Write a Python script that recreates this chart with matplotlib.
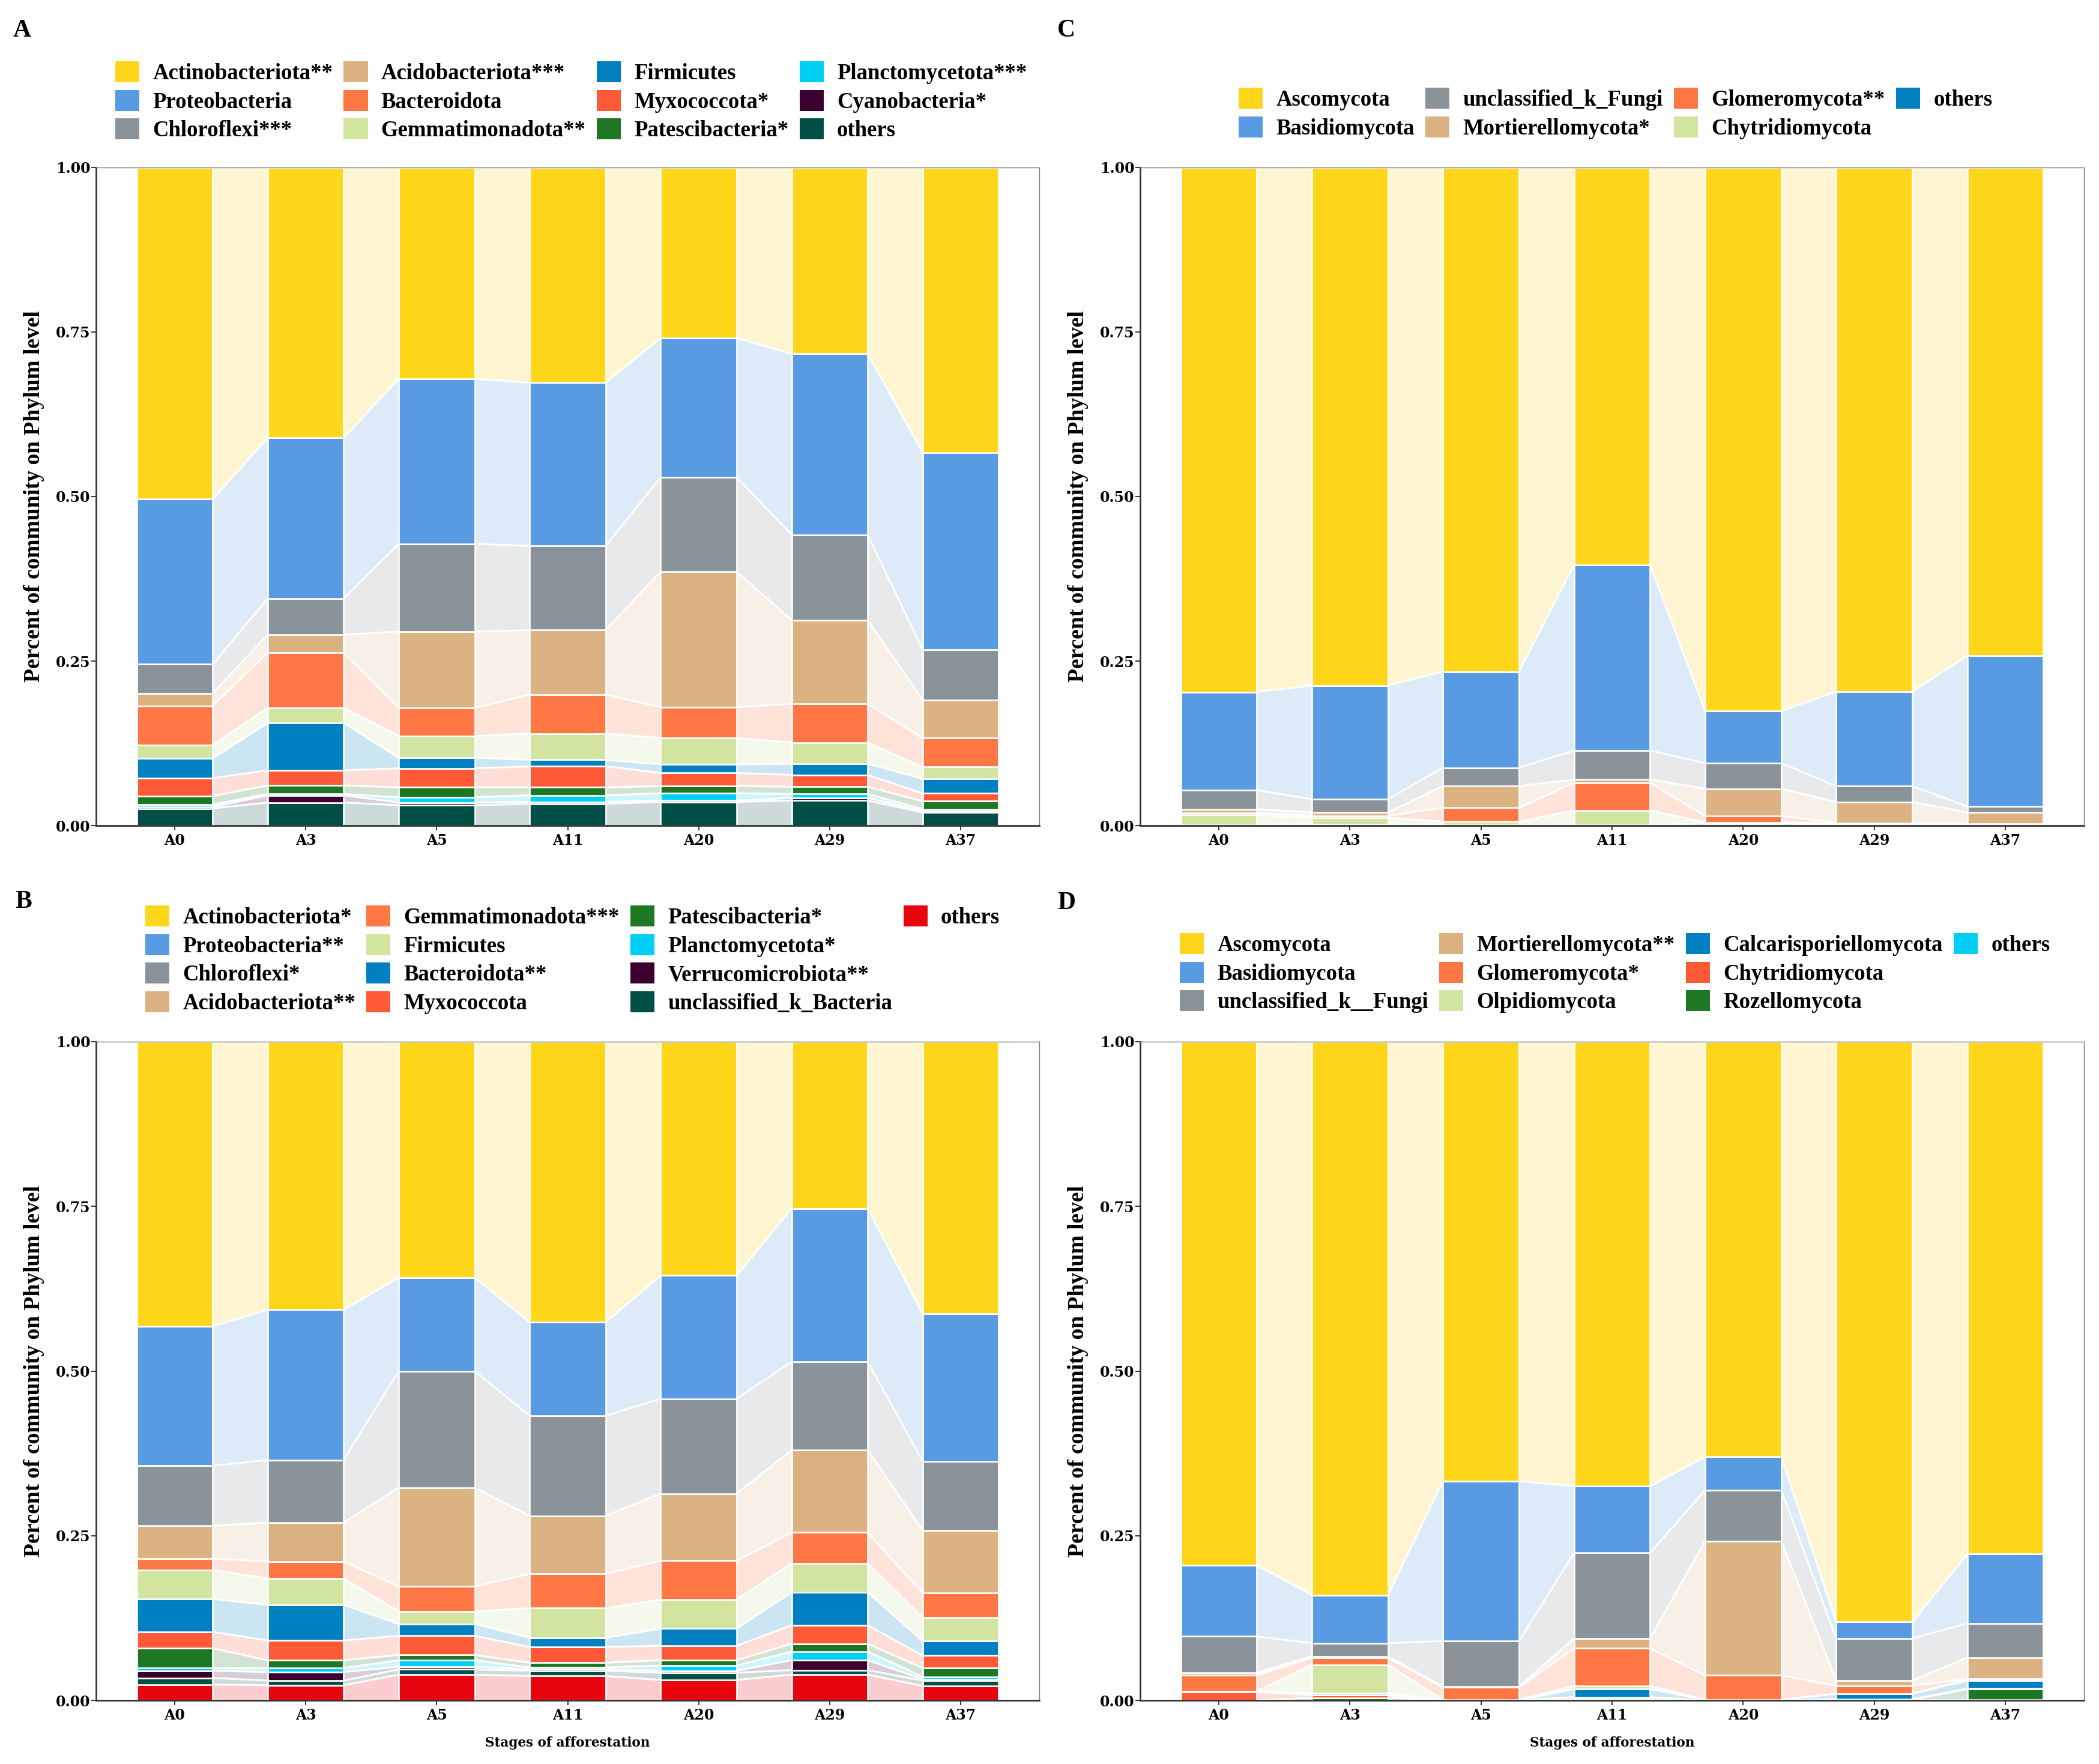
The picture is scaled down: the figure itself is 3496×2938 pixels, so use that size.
import numpy as np
import matplotlib
matplotlib.use("Agg")
import matplotlib.pyplot as plt
from matplotlib.patches import Patch

plt.rcParams['font.family'] = ['Liberation Serif', 'DejaVu Serif']
plt.rcParams['font.weight'] = 'bold'

stages = ["A0", "A3", "A5", "A11", "A20", "A29", "A37"]

# ---------------- Panel A (bacteria) : legend order = top of stack first
A_labels = ["Actinobacteriota**", "Proteobacteria", "Chloroflexi***", "Acidobacteriota***",
            "Bacteroidota", "Gemmatimonadota**", "Firmicutes", "Myxococcota*",
            "Patescibacteria*", "Planctomycetota***", "Cyanobacteria*", "others"]
A_actino = [0.504, 0.411, 0.321, 0.327, 0.259, 0.283, 0.433]
A_proteo = [0.251, 0.244, 0.251, 0.248, 0.212, 0.275, 0.300]
A_chloro = [0.044, 0.055, 0.133, 0.128, 0.143, 0.130, 0.076]
A_acido = [0.019, 0.027, 0.116, 0.098, 0.206, 0.127, 0.058]
A_bacter = [0.060, 0.084, 0.043, 0.059, 0.047, 0.059, 0.044]
A_gemmat = [0.020, 0.023, 0.033, 0.040, 0.040, 0.032, 0.018]
A_firmic = [0.030, 0.072, 0.016, 0.010, 0.013, 0.017, 0.022]
A_myxo = [0.027, 0.023, 0.029, 0.032, 0.020, 0.018, 0.012]
A_patesci = [0.013, 0.013, 0.015, 0.012, 0.011, 0.011, 0.012]
A_plancto = [0.004, 0.002, 0.008, 0.010, 0.011, 0.006, 0.003]
A_cyano = [0.002, 0.011, 0.004, 0.003, 0.002, 0.004, 0.002]
A_others = [0.026, 0.035, 0.031, 0.033, 0.036, 0.038, 0.020]
A_values = [A_actino, A_proteo, A_chloro, A_acido, A_bacter, A_gemmat, A_firmic,
            A_myxo, A_patesci, A_plancto, A_cyano, A_others]

# ---------------- Panel B (bacteria)
B_labels = ["Actinobacteriota*", "Proteobacteria**", "Chloroflexi*", "Acidobacteriota**",
            "Gemmatimonadota***", "Firmicutes", "Bacteroidota**", "Myxococcota",
            "Patescibacteria*", "Planctomycetota*", "Verrucomicrobiota**",
            "unclassified_k_Bacteria", "others"]
B_actino = [0.432, 0.407, 0.358, 0.426, 0.355, 0.253, 0.413]
B_proteo = [0.212, 0.228, 0.142, 0.142, 0.187, 0.233, 0.224]
B_chloro = [0.091, 0.095, 0.177, 0.152, 0.144, 0.134, 0.105]
B_acido = [0.050, 0.059, 0.150, 0.088, 0.102, 0.125, 0.095]
B_gemmat = [0.017, 0.026, 0.038, 0.052, 0.059, 0.047, 0.037]
B_firmic = [0.044, 0.040, 0.019, 0.045, 0.044, 0.044, 0.036]
B_bacter = [0.050, 0.054, 0.018, 0.014, 0.026, 0.050, 0.022]
B_myxo = [0.025, 0.030, 0.029, 0.024, 0.022, 0.028, 0.019]
B_patesci = [0.030, 0.012, 0.008, 0.007, 0.008, 0.012, 0.013]
B_plancto = [0.004, 0.006, 0.010, 0.003, 0.008, 0.013, 0.004]
B_verruco = [0.011, 0.013, 0.004, 0.002, 0.003, 0.015, 0.002]
B_unclass = [0.010, 0.007, 0.008, 0.008, 0.011, 0.007, 0.008]
B_others = [0.024, 0.023, 0.039, 0.037, 0.031, 0.039, 0.022]
B_values = [B_actino, B_proteo, B_chloro, B_acido, B_gemmat, B_firmic, B_bacter,
            B_myxo, B_patesci, B_plancto, B_verruco, B_unclass, B_others]

# ---------------- Panel C (fungi)
C_labels = ["Ascomycota", "Basidiomycota", "unclassified_k_Fungi", "Mortierellomycota*",
            "Glomeromycota**", "Chytridiomycota", "others"]
C_asco = [0.797, 0.787, 0.766, 0.604, 0.826, 0.797, 0.742]
C_basid = [0.149, 0.173, 0.146, 0.282, 0.079, 0.144, 0.229]
C_unclass = [0.029, 0.020, 0.028, 0.044, 0.039, 0.024, 0.009]
C_mort = [0.006, 0.005, 0.033, 0.005, 0.041, 0.032, 0.017]
C_glomero = [0.003, 0.003, 0.021, 0.042, 0.010, 0.001, 0.001]
C_chytrid = [0.015, 0.010, 0.005, 0.022, 0.002, 0.002, 0.001]
C_others = [0.001, 0.002, 0.001, 0.001, 0.003, 0.001, 0.001]
C_values = [C_asco, C_basid, C_unclass, C_mort, C_glomero, C_chytrid, C_others]

# ---------------- Panel D (fungi)
D_labels = ["Ascomycota", "Basidiomycota", "unclassified_k__Fungi", "Mortierellomycota**",
            "Glomeromycota*", "Olpidiomycota", "Calcarisporiellomycota", "Chytridiomycota",
            "Rozellomycota", "others"]
D_asco = [0.794, 0.841, 0.667, 0.675, 0.630, 0.881, 0.778]
D_basid = [0.108, 0.073, 0.243, 0.101, 0.051, 0.025, 0.105]
D_unclass = [0.055, 0.020, 0.069, 0.130, 0.077, 0.064, 0.052]
D_mort = [0.004, 0.002, 0.001, 0.015, 0.204, 0.008, 0.032]
D_glomero = [0.024, 0.011, 0.019, 0.057, 0.037, 0.012, 0.001]
D_olpid = [0.001, 0.043, 0.001, 0.005, 0.000, 0.000, 0.002]
D_calcar = [0.000, 0.003, 0.000, 0.012, 0.001, 0.008, 0.012]
D_chytrid = [0.013, 0.004, 0.000, 0.003, 0.000, 0.001, 0.001]
D_rozello = [0.000, 0.004, 0.000, 0.000, 0.000, 0.000, 0.016]
D_others = [0.000, 0.000, 0.000, 0.002, 0.000, 0.001, 0.001]
D_values = [D_asco, D_basid, D_unclass, D_mort, D_glomero, D_olpid, D_calcar,
            D_chytrid, D_rozello, D_others]

palette = ["#FFD61A", "#589BE3", "#8A9399", "#DDB283", "#FF7744", "#D1E5A1",
           "#0080C0", "#FF5A37", "#1E7724", "#00CFF4", "#3C0030", "#004F46", "#E8060E"]

W, H = 3496, 2938
DPI = 100
fig = plt.figure(figsize=(W / DPI, H / DPI), dpi=DPI)


def px_axes(l, t, r, b):
    return fig.add_axes([l / W, 1 - b / H, (r - l) / W, (b - t) / H])


def draw_panel(ax, values):
    vals = np.array(values, dtype=float)[::-1]  # bottom of stack first
    cols = palette[:len(values)][::-1]
    n = vals.shape[1]
    x = np.arange(n)
    w = 0.58
    cum = np.vstack([np.zeros(n), np.cumsum(vals, axis=0)])
    cum = cum / cum[-1]
    for k in range(vals.shape[0]):
        bot, top = cum[k], cum[k + 1]
        for i in range(n - 1):
            xx = [i + w / 2, i + 1 - w / 2]
            ax.fill_between(xx, [bot[i], bot[i + 1]], [top[i], top[i + 1]],
                            facecolor=cols[k], alpha=0.2, edgecolor='none', zorder=1)
            ax.plot(xx, [top[i], top[i + 1]], color='white', lw=2.2, zorder=1.5,
                    solid_capstyle='butt')
        ax.bar(x, top - bot, bottom=bot, width=w, color=cols[k], edgecolor='white',
               linewidth=1.9, zorder=2)
    ax.set_xlim(-0.6, n - 0.4)
    ax.set_ylim(0, 1)
    ax.set_xticks(x)
    ax.set_xticklabels(stages)
    ax.set_yticks([0, 0.25, 0.5, 0.75, 1.0])
    ax.set_yticklabels(["0.00", "0.25", "0.50", "0.75", "1.00"])
    for lab in ax.get_xticklabels() + ax.get_yticklabels():
        lab.set_fontfamily('DejaVu Serif')
        lab.set_fontweight('bold')
        lab.set_fontsize(17)
        lab.set_color('black')
    ax.tick_params(axis='both', length=5.5, width=1.4, color='#333333')
    ax.tick_params(axis='y', pad=1.5)
    ax.tick_params(axis='x', pad=4)
    for s in ['top', 'right']:
        ax.spines[s].set_color('#777777')
        ax.spines[s].set_linewidth(1.0)
    for s in ['left', 'bottom']:
        ax.spines[s].set_color('#333333')
        ax.spines[s].set_linewidth(2.0)


def add_legend(labels, ncol, pad_to, left, top):
    handles = [Patch(facecolor=palette[i], edgecolor='none', label=lab)
               for i, lab in enumerate(labels)]
    while len(handles) < pad_to:
        handles.append(Patch(facecolor='none', edgecolor='none', label=''))
    fig.legend(handles=handles, loc='upper left', bbox_to_anchor=(left / W, 1 - top / H),
               ncol=ncol, frameon=False,
               prop={'family': 'Liberation Serif', 'weight': 'bold', 'size': 26.5},
               handlelength=1.09, handleheight=1.09, handletextpad=0.6, columnspacing=0.5,
               labelspacing=0.26, borderpad=0, borderaxespad=0)


panels = [
    ("A", A_values, A_labels, (160, 279, 1731, 1375), 12, False, (22, 61), (192, 102)),
    ("C", C_values, C_labels, (1899, 279, 3471, 1375), 7, False, (1761, 61), (2063, 146)),
    ("B", B_values, B_labels, (160, 1735, 1731, 2832), 16, True, (25, 1512), (242, 1508)),
    ("D", D_values, D_labels, (1899, 1735, 3471, 2832), 12, True, (1761, 1514), (1965, 1554)),
]

for tag, vals, labels, box, padn, showx, tagpos, legpos in panels:
    l, t, r, b = box
    ax = px_axes(l, t, r, b)
    draw_panel(ax, vals)
    fig.text((l - 103) / W, 1 - ((t + b) / 2) / H, "Percent of community on Phylum level",
             rotation=90, ha='center', va='center', fontsize=27, fontweight='bold',
             family='Liberation Serif')
    if showx:
        fig.text((l + r) / 2 / W, 1 - 2903 / H, "Stages of afforestation", ha='center',
                 va='center', fontsize=15.5, fontweight='bold', family='DejaVu Serif')
    fig.text(tagpos[0] / W, 1 - tagpos[1] / H, tag, ha='left', va='baseline',
             fontsize=30, fontweight='bold', family='Liberation Serif')
    add_legend(labels, 4, padn, legpos[0], legpos[1])

fig.savefig("out.png", dpi=DPI, facecolor='white')
